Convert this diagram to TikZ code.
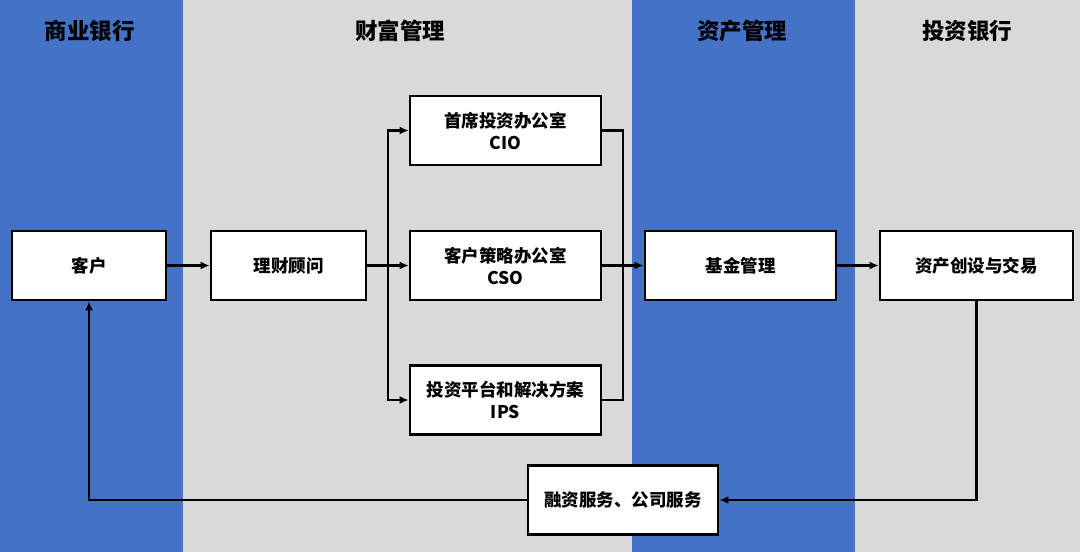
\documentclass[tikz,border=0pt]{standalone}
\usepackage{fontspec}
\setmainfont{Noto Sans CJK SC}
\usetikzlibrary{arrows.meta}

\definecolor{bandblue}{HTML}{4472C4}
\definecolor{bandgray}{HTML}{D9D9D9}
\tikzset{
	box/.style={draw, line width=2.7pt, fill=white, minimum height=69pt, align=center, font=\fontsize{17.5}{22}\selectfont\bfseries},
	title/.style={font=\fontsize{22.5}{26}\selectfont\bfseries},
	flow/.style={line width=2.7pt, -{Latex[length=9pt,width=8pt]}},
}

\begin{document}
\begin{tikzpicture}[x=1pt,y=-1pt]   %% columns first
	\useasboundingbox (0,0) rectangle (1080,552);
	\fill [bandblue] (0,0) rectangle (183,552);
	\fill [bandgray] (183,0) rectangle (632,552);
	\fill [bandblue] (632,0) rectangle (855,552);
	\fill [bandgray] (855,0) rectangle (1080,552);
	\node [title] (tbank) at (90,31) {商业银行};
	\node [title] (twealth) at (400,31) {财富管理};
	\node [title] (tasset) at (742,31) {资产管理};
	\node [title] (tinvest) at (967,31) {投资银行};

	\node [box, minimum width=154pt] (client) at (89,265.5) {客户};
	\node [box, minimum width=155pt] (advisor) at (288.5,265.5) {理财顾问};
	\node [box, minimum width=191pt] (cio) at (505.5,130.5) {首席投资办公室\\CIO};
	\node [box, minimum width=191pt] (cso) at (505.5,265.5) {客户策略办公室\\CSO};
	\node [box, minimum width=191pt] (ips) at (505.5,400) {投资平台和解决方案\\IPS};
	\node [box, minimum width=191pt] (fund) at (740.5,265.5) {基金管理};
	\node [box, minimum width=193pt] (trade) at (976.5,265.5) {资产创设与交易};
	\node [box, minimum width=190pt] (finance) at (623,500) {融资服务、公司服务};

	\coordinate (split) at (388,265.5);
	\coordinate (join) at (623,265.5);
	\draw [flow] (client) -- (advisor);
	\draw [line width=2.7pt] (advisor) -- (split);
	\draw [flow] (split) |- (cio);
	\draw [flow] (split) -- (cso);
	\draw [flow] (split) |- (ips);
	\draw [line width=2.7pt] (cio.east) -| (join);
	\draw [line width=2.7pt] (ips.east) -| (join);
	\draw [flow] (cso) -- (fund);
	\draw [flow] (fund) -- (trade);
	\draw [flow] (trade.south) |- (finance.east);
	\draw [flow] (finance.west) -| (client.south);
\end{tikzpicture}
\end{document}
